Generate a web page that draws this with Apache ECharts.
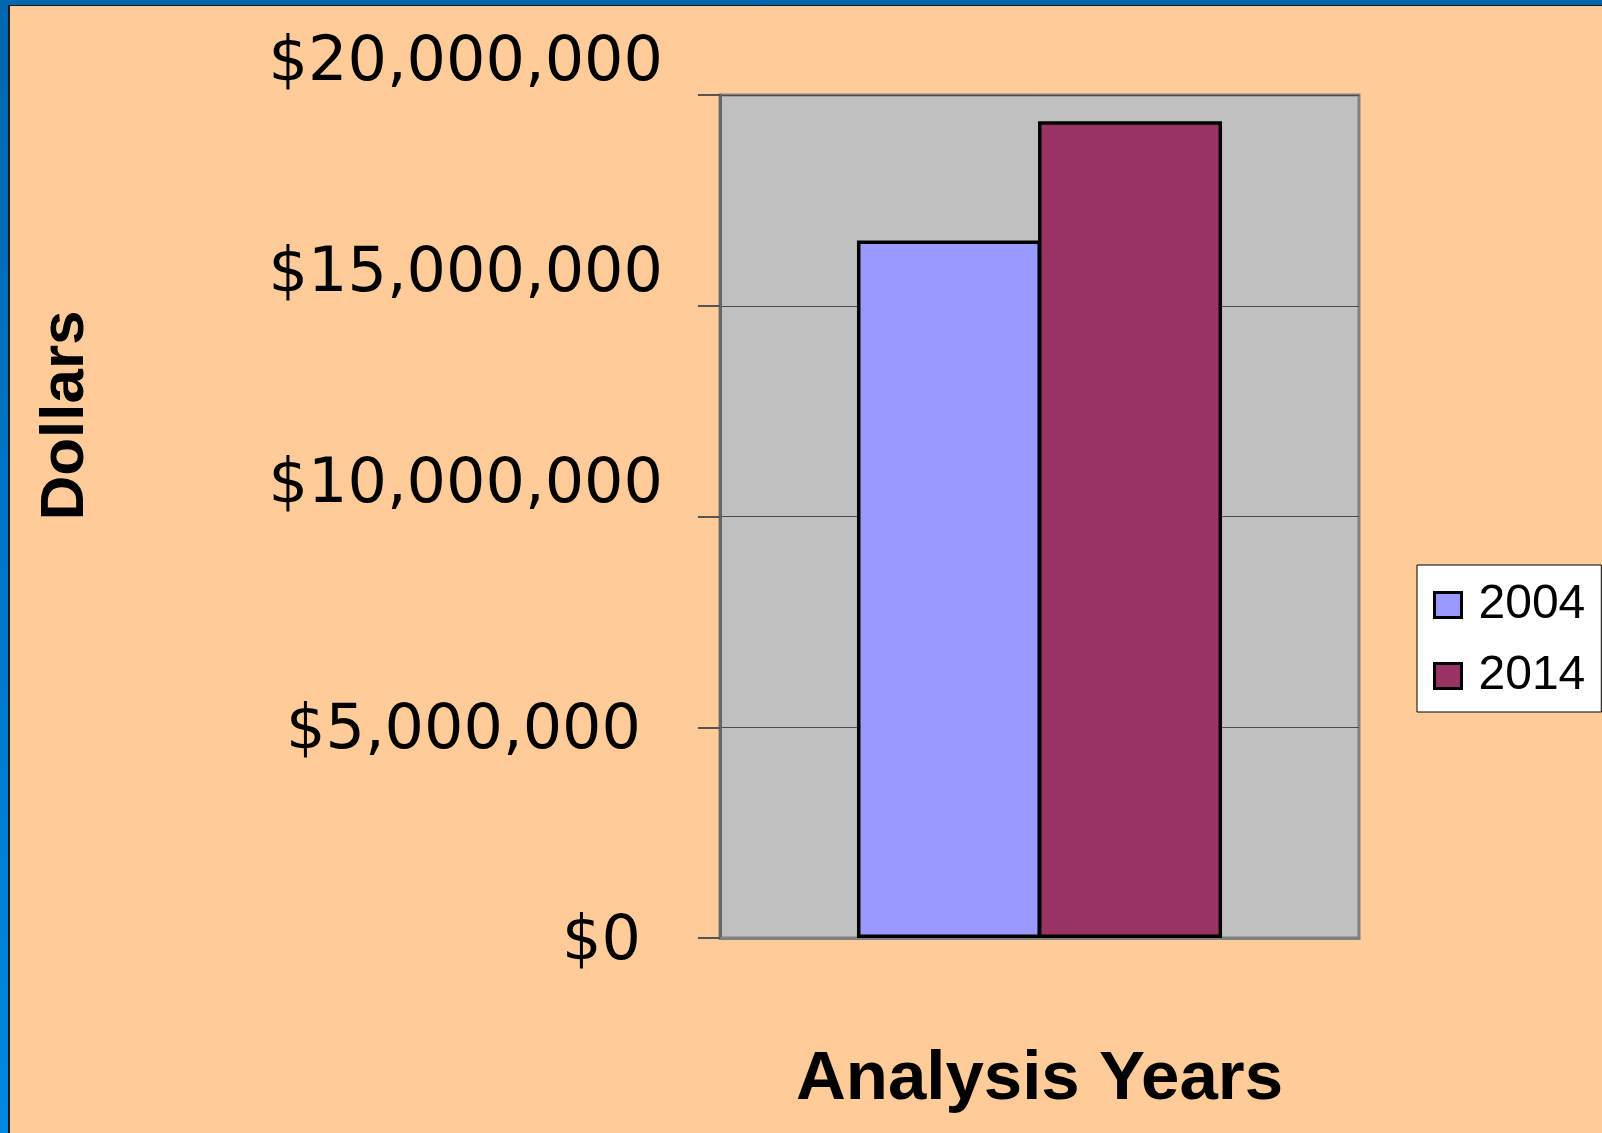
<!DOCTYPE html>
<html>
<head>
<meta charset="utf-8">
<script src="https://cdn.jsdelivr.net/npm/echarts@6/dist/echarts.min.js"></script>
<style>
  html, body { margin: 0; padding: 0; }
  body {
    width: 1602px; height: 1133px; overflow: hidden;
    background: linear-gradient(to bottom, #0066b0, #0088e2);
  }
  #main {
    position: absolute; left: 8px; top: 5px;
    width: 1592px; height: 1127px;
    border-left: 2px solid #1a1a1a; border-top: 1px solid #1a1a1a;
    background: #ffcc99;
  }
</style>
</head>
<body>
<div id="main"></div>
<script>
// chart data
var categories = ['Analysis Years']
var years = ['2004', '2014']
var values2004 = [16550000]
var values2014 = [19380000]
var tickValues = [0, 5000000, 10000000, 15000000, 20000000]

var myChart = echarts.init(document.getElementById('main'))

function money(v) {
  return '$' + v.toLocaleString('en-US')
}

var option = {
  animation: false,
  grid: {
    left: 710,
    top: 89,
    right: 243,
    bottom: 195,
    show: true,
    backgroundColor: '#c0c0c0',
    borderColor: '#808080',
    borderWidth: 3,
    outerBoundsMode: 'none'
  },
  legend: {
    orient: 'vertical',
    left: 1407,
    top: 559,
    padding: [16, 16, 12, 16],
    itemGap: 23,
    itemWidth: 27,
    itemHeight: 25,
    icon: 'rect',
    backgroundColor: '#ffffff',
    borderColor: '#000000',
    borderWidth: 1,
    itemStyle: { borderColor: '#000', borderWidth: 3 },
    textStyle: {
      fontFamily: 'Liberation Sans',
      fontSize: 48,
      lineHeight: 48,
      color: '#000',
      padding: [0, 0, 0, 12]
    },
    data: years
  },
  xAxis: {
    type: 'category',
    data: categories,
    name: 'Analysis Years',
    nameLocation: 'middle',
    nameGap: 107,
    nameTextStyle: {
      fontFamily: 'Liberation Sans',
      fontWeight: 'bold',
      fontSize: 69,
      color: '#000'
    },
    axisLine: { show: true, lineStyle: { color: '#808080', width: 3 } },
    axisTick: { show: false },
    axisLabel: { show: false }
  },
  yAxis: {
    type: 'value',
    min: tickValues[0],
    max: tickValues[tickValues.length - 1],
    interval: tickValues[1] - tickValues[0],
    name: 'Dollars',
    nameLocation: 'middle',
    nameRotate: 90,
    nameGap: 623,
    nameTextStyle: {
      fontFamily: 'Liberation Sans',
      fontWeight: 'bold',
      fontSize: 62,
      color: '#000',
      padding: [0, 0, 0, 202]
    },
    axisLine: { show: true, lineStyle: { color: '#666666', width: 3 } },
    axisTick: { show: true, length: 22, lineStyle: { color: '#555555', width: 2 } },
    splitLine: { show: true, lineStyle: { color: '#4a4a4a', width: 1 } },
    axisLabel: {
      margin: 57,
      formatter: function(v) {
        return v >= 10000000 ? '{hi|' + money(v) + '}' : '{lo|' + money(v) + '}'
      },
      rich: {
        hi: {
          fontFamily: 'DejaVu Sans',
          fontSize: 62,
          color: '#000',
          padding: [8, 0, 70, 0]
        },
        lo: {
          fontFamily: 'DejaVu Sans',
          fontSize: 62,
          color: '#000',
          padding: [10, 22, 0, 0]
        }
      }
    }
  },
  series: [
    {
      name: years[0],
      type: 'bar',
      data: values2004,
      barWidth: 184,
      barGap: '-1.6%',
      itemStyle: { color: '#9999ff', borderColor: '#000', borderWidth: 3.5 }
    },
    {
      name: years[1],
      type: 'bar',
      data: values2014,
      barWidth: 184,
      barGap: '-1.6%',
      itemStyle: { color: '#993366', borderColor: '#000', borderWidth: 3.5 }
    }
  ]
}

myChart.setOption(option)
</script>
</body>
</html>
